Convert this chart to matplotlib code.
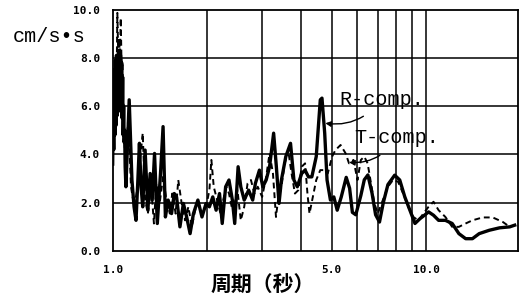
import numpy as np
import matplotlib
matplotlib.use("Agg")
import matplotlib.pyplot as plt

# R-component (solid)
r_period = [1.000, 1.004, 1.008, 1.012, 1.016, 1.020, 1.024, 1.028, 1.032, 1.036, 1.040, 1.044,
            1.048, 1.052, 1.056, 1.060, 1.064, 1.068, 1.072, 1.076, 1.080, 1.084, 1.088, 1.092,
            1.096, 1.102, 1.116, 1.129, 1.141, 1.152, 1.170,
            1.187, 1.202, 1.217, 1.232, 1.247, 1.269, 1.295, 1.317, 1.337, 1.360, 1.388, 1.423,
            1.448, 1.473, 1.503, 1.541, 1.572, 1.599, 1.639, 1.681, 1.722, 1.766, 1.810, 1.870,
            1.927, 1.986, 2.035, 2.086, 2.138, 2.192, 2.236, 2.293, 2.350, 2.409, 2.451, 2.513,
            2.563, 2.628, 2.715, 2.797, 2.853, 2.939, 3.013, 3.088, 3.166, 3.262, 3.328, 3.394,
            3.454, 3.567, 3.693, 3.786, 3.881, 4.009, 4.110, 4.213, 4.319, 4.461, 4.596, 4.653,
            4.747, 4.830, 4.951, 5.076, 5.204, 5.361, 5.560, 5.700, 5.818, 5.965, 6.191, 6.350,
            6.520, 6.720, 6.900, 7.100, 7.300, 7.553, 7.938, 8.239, 8.551, 8.876, 9.213, 9.563, 9.876,
            10.18, 10.56, 10.96, 11.52, 12.11, 12.72, 13.37, 14.05, 14.77, 15.91, 17.15, 18.48,
            19.17]
r_value = [3.60, 6.00, 4.20, 7.50, 4.80, 7.90, 5.20, 8.10, 5.60, 8.00, 6.00, 8.30,
           6.20, 8.00, 5.80, 8.10, 6.00, 7.80, 5.50, 7.20, 4.80, 6.00, 4.50, 5.00,
           3.50, 2.66, 4.60, 6.26, 4.46, 2.94, 1.83,
           1.27, 2.80, 4.46, 2.66, 1.83, 4.18, 1.69, 3.21, 2.11, 4.04, 1.14, 3.35,
           5.15, 1.41, 2.11, 1.55, 2.38, 2.24, 1.00, 1.97, 1.41, 0.72, 1.55, 2.11,
           1.41, 1.97, 1.83, 2.24, 1.69, 2.38, 1.14, 2.66, 2.94, 2.11, 1.14, 3.49,
           2.66, 2.11, 2.52, 2.11, 2.80, 3.35, 2.66, 2.94, 3.49, 4.88, 3.49, 1.97,
           2.94, 3.91, 4.46, 2.94, 2.66, 3.21, 3.35, 3.07, 3.07, 3.91, 6.26, 6.33,
           4.88, 2.94, 2.11, 2.24, 1.69, 2.24, 3.05, 2.60, 1.60, 1.50, 2.30, 2.95,
           3.15, 2.40, 1.50, 1.20, 2.00, 2.75, 3.14, 2.94, 2.24, 1.69, 1.14, 1.34, 1.48,
           1.62, 1.48, 1.27, 1.27, 1.14, 0.72, 0.51, 0.51, 0.72, 0.86, 0.96, 1.00,
           1.07]

# T-component (dashed)
t_period = [1.010, 1.020, 1.028, 1.035, 1.042, 1.048, 1.055, 1.061, 1.068, 1.075, 1.082, 1.090,
            1.102, 1.121, 1.144, 1.172, 1.202, 1.226, 1.247,
            1.269, 1.295, 1.327, 1.354, 1.378, 1.412, 1.448, 1.484, 1.522, 1.549, 1.588, 1.619,
            1.660, 1.702, 1.744, 1.788, 1.833, 1.879, 1.927, 1.986, 2.035, 2.065, 2.101, 2.154,
            2.208, 2.264, 2.304, 2.350, 2.397, 2.439, 2.501, 2.563, 2.628, 2.694, 2.762, 2.831,
            2.903, 2.998, 3.088, 3.166, 3.246, 3.319, 3.369, 3.454, 3.541, 3.630, 3.721, 3.815,
            3.911, 4.009, 4.110, 4.182, 4.245, 4.351, 4.461, 4.596, 4.711, 4.855, 5.012, 5.138,
            5.335, 5.537, 5.675, 5.864, 6.040, 6.191, 6.347, 6.507, 6.671, 6.839, 7.010, 7.277,
            7.553, 7.840, 8.137, 8.446, 8.767, 9.100, 9.445, 9.804, 10.18, 10.56, 10.96, 11.52,
            12.11, 12.72, 13.37, 14.05, 15.14, 16.31, 17.58, 18.48]
t_value = [5.00, 7.50, 6.50, 9.86, 8.00, 8.80, 8.00, 9.65, 7.50, 7.80, 5.50, 4.50,
           3.49, 5.57, 2.66, 1.83, 2.66, 3.91, 4.88,
           2.11, 1.55, 2.66, 1.14, 2.80, 1.97, 3.07, 2.11, 1.55, 2.38, 1.55, 2.94,
           1.97, 1.27, 1.83, 1.00, 1.69, 1.97, 1.55, 1.83, 2.52, 3.77, 2.66, 2.11,
           1.55, 2.24, 2.66, 2.38, 1.83, 1.83, 2.52, 1.27, 1.83, 2.80, 2.94, 2.38,
           2.66, 2.24, 3.07, 4.04, 3.21, 1.41, 2.11, 2.66, 3.63, 4.18, 3.21, 2.38,
           2.52, 3.49, 3.63, 2.38, 1.55, 2.24, 2.94, 3.35, 3.35, 3.21, 3.91, 4.18,
           4.39, 4.04, 3.63, 3.77, 2.94, 3.77, 3.91, 3.63, 2.80, 1.97, 1.55, 2.11,
           2.66, 2.94, 2.87, 2.38, 1.83, 1.41, 1.27, 1.55, 1.83, 2.04, 1.69, 1.41,
           1.00, 1.00, 1.14, 1.27, 1.39, 1.39, 1.20, 1.00]

x_ticks = [1.0, 5.0, 10.0]
x_tick_labels = ["1.0", "5.0", "10.0"]
x_grid = [2, 3, 4, 5, 6, 7, 8, 9, 10]
y_ticks = [0, 2, 4, 6, 8, 10]
y_tick_labels = ["0.0", "2.0", "4.0", "6.0", "8.0", "10.0"]

fig = plt.figure(figsize=(5.29, 2.99), dpi=100)
ax = fig.add_axes([0.213, 0.1605, 0.767, 0.8077])

ax.set_xscale("log")
ax.set_xlim(1.0, 19.7)
ax.set_ylim(0, 10)

for g in x_grid:
    ax.axvline(g, color="black", lw=1.1, zorder=1)
for g in [2, 4, 6, 8]:
    ax.axhline(g, color="black", lw=1.1, zorder=1)

ax.plot(t_period, t_value, color="black", lw=1.4, ls=(0, (3, 2)), zorder=2)
ax.plot(r_period, r_value, color="black", lw=2.4, zorder=3)

ax.set_xticks(x_ticks)
ax.set_xticklabels(x_tick_labels)
ax.xaxis.set_minor_locator(matplotlib.ticker.NullLocator())
ax.set_yticks(y_ticks)
ax.set_yticklabels(y_tick_labels)
ax.tick_params(axis="both", length=0)
ax.tick_params(axis="x", pad=10)
ax.tick_params(axis="y", pad=9)
for lab in ax.get_xticklabels() + ax.get_yticklabels():
    lab.set_fontfamily("DejaVu Sans Mono")
    lab.set_fontweight("bold")
    lab.set_fontsize(8)

for s in ax.spines.values():
    s.set_linewidth(1.3)

fig.text(13 / 529, 1 - 37 / 299, "cm/s•s", fontfamily="Liberation Mono",
         fontsize=14.5, ha="left", va="center")

fig.text(263 / 529, 1 - 285 / 299, "周期（秒）", fontfamily=["Noto Sans CJK SC", "DejaVu Sans"],
         fontweight="bold", fontsize=15, ha="center", va="center")

arrow_kw = dict(arrowstyle="-|>", color="black", lw=1.0,
                connectionstyle="arc3,rad=-0.3", shrinkA=6, shrinkB=0,
                mutation_scale=8)
ax.annotate("R-comp.", xy=(4.77, 5.29), xytext=(5.27, 6.29),
            fontfamily="Liberation Mono", fontsize=14.5, ha="left", va="center",
            arrowprops=arrow_kw)
ax.annotate("T-comp.", xy=(5.68, 3.67), xytext=(5.89, 4.68),
            fontfamily="Liberation Mono", fontsize=14.5, ha="left", va="center",
            arrowprops=arrow_kw)

fig.savefig("out.png", dpi=100)
